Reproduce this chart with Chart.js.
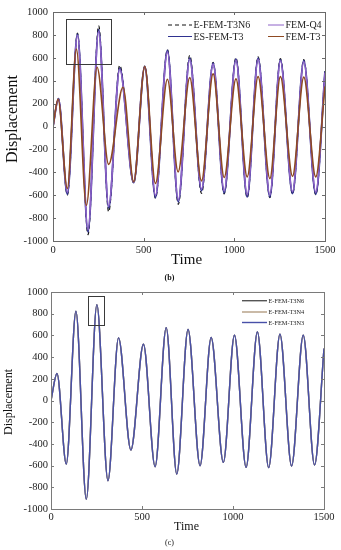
<!DOCTYPE html>
<html><head><meta charset="utf-8">
<script src="https://cdn.jsdelivr.net/npm/chart.js@4.4.1/dist/chart.umd.min.js"></script>
<style>
html,body{margin:0;padding:0;background:#fff;width:341px;height:550px;overflow:hidden}
#c1{position:absolute;left:0;top:0}
#c2{position:absolute;left:0;top:282px}
</style></head><body>
<canvas id="c1" width="341" height="282"></canvas>
<canvas id="c2" width="341" height="268"></canvas>
<script>
// ---------- DATA ----------
const xTicks = [0, 500, 1000, 1500];
const yTicks = [-1000, -800, -600, -400, -200, 0, 200, 400, 600, 800, 1000];

// Panel (b)
const topEFEMT3N6Time  = [0, 30, 79, 135, 193, 252, 307, 368, 445, 506, 565, 631, 691, 754, 819, 883, 944, 1009, 1071, 1131, 1196, 1254, 1321, 1383, 1449, 1500];
const topEFEMT3N6Disp  = [0, 245, -600, 815, -945, 880, -745, 535, -495, 528, -628, 672, -680, 622, -585, 560, -588, 600, -622, 608, -622, 592, -592, 585, -598, 485];
const topESFEMT3Time   = [0, 30, 79, 135, 193, 252, 307, 368, 445, 506, 565, 631, 691, 754, 819, 883, 944, 1009, 1071, 1131, 1196, 1254, 1321, 1383, 1449, 1500];
const topESFEMT3Disp   = [0, 242, -591, 807, -921, 845, -711, 510, -490, 524, -620, 664, -658, 597, -560, 553, -580, 588, -615, 597, -615, 582, -585, 576, -590, 480];
const topFEMQ4Time     = [0, 30, 79, 135, 193, 252, 307, 368, 445, 506, 565, 631, 691, 754, 819, 883, 944, 1009, 1071, 1131, 1196, 1254, 1321, 1383, 1449, 1500];
const topFEMQ4Disp     = [0, 240, -575, 795, -900, 830, -695, 500, -485, 522, -600, 650, -640, 585, -545, 545, -560, 578, -595, 585, -597, 572, -568, 566, -572, 470];
const topFEMT3Time     = [0, 28, 79, 129, 184, 243, 307, 386, 445, 506, 565, 631, 690, 754, 819, 883, 944, 1009, 1071, 1131, 1196, 1254, 1321, 1383, 1449, 1500];
const topFEMT3Disp     = [0, 238, -541, 676, -688, 518, -331, 343, -483, 524, -497, 413, -396, 427, -475, 460, -445, 416, -440, 436, -454, 436, -434, 431, -440, 350];
const topZoomBox = [74, 322, 540, 935];   // time from, time to, disp from, disp to

// Panel (c)
const botT3N6Time = [0, 33, 84, 137, 194, 252, 313, 371, 439, 508, 572, 633, 691, 753, 819, 880, 947, 1008, 1072, 1134, 1196, 1258, 1322, 1386, 1448, 1500];
const botT3N6Disp = [0, 249, -585, 822, -910, 884, -739, 577, -456, 519, -610, 672, -677, 654, -601, 580, -570, 602, -616, 632, -619, 611, -603, 602, -594, 479];
const botT3N4Time = [0, 33, 84, 137, 194, 252, 313, 371, 439, 508, 572, 633, 691, 753, 819, 880, 947, 1008, 1072, 1134, 1196, 1258, 1322, 1386, 1448, 1500];
const botT3N4Disp = [0, 249, -585, 822, -910, 884, -739, 577, -456, 519, -610, 672, -677, 654, -601, 580, -570, 602, -616, 632, -619, 611, -603, 602, -594, 479];
const botT3N3Time = [0, 33, 84, 137, 194, 252, 313, 371, 439, 508, 572, 633, 691, 753, 819, 880, 947, 1008, 1072, 1134, 1196, 1258, 1322, 1386, 1448, 1500];
const botT3N3Disp = [0, 249, -585, 822, -910, 884, -739, 577, -456, 519, -610, 672, -677, 654, -601, 580, -570, 602, -616, 632, -619, 611, -603, 602, -594, 479];
const botZoomBox = [206, 292, 700, 963];

// ---------- helpers ----------
const SERIF = '"Liberation Serif", "Times New Roman", serif';
const pts = (t, d) => t.map((v, i) => ({x: v, y: d[i]}));

function decor(cfg) {
  return {
    id: 'decor',
    afterDraw(chart) {
      const {ctx, chartArea: a, scales: {x, y}} = chart;
      ctx.save();
      // zoom box
      ctx.strokeStyle = '#3a3a3a'; ctx.lineWidth = 1;
      const bx1 = x.getPixelForValue(cfg.box[0]), bx2 = x.getPixelForValue(cfg.box[1]);
      const by1 = y.getPixelForValue(cfg.box[3]), by2 = y.getPixelForValue(cfg.box[2]);
      ctx.strokeRect(Math.round(bx1) + 0.5, Math.round(by1) + 0.5, Math.round(bx2 - bx1), Math.round(by2 - by1));
      // frame
      ctx.strokeStyle = cfg.frame; ctx.lineWidth = 1;
      ctx.strokeRect(Math.round(a.left) + 0.5, Math.round(a.top) + 0.5, Math.round(a.right - a.left), Math.round(a.bottom - a.top));
      // inward ticks
      ctx.beginPath();
      xTicks.forEach(v => {
        const px = Math.round(x.getPixelForValue(v)) + 0.5;
        ctx.moveTo(px, a.bottom); ctx.lineTo(px, a.bottom - 3);
        ctx.moveTo(px, a.top); ctx.lineTo(px, a.top + 3);
      });
      yTicks.forEach(v => {
        const py = Math.round(y.getPixelForValue(v)) + 0.5;
        ctx.moveTo(a.left, py); ctx.lineTo(a.left + 3, py);
        ctx.moveTo(a.right, py); ctx.lineTo(a.right - 3, py);
      });
      ctx.stroke();
      // legend
      ctx.textAlign = 'left'; ctx.textBaseline = 'middle';
      ctx.font = cfg.legendFont;
      cfg.legend.forEach(it => {
        const ds = chart.data.datasets[it.i];
        ctx.strokeStyle = ds.borderColor; ctx.lineWidth = cfg.legendLW;
        ctx.setLineDash(ds.borderDash || []);
        ctx.beginPath(); ctx.moveTo(it.x1, it.y); ctx.lineTo(it.x2, it.y); ctx.stroke();
        ctx.setLineDash([]);
        ctx.fillStyle = '#222';
        ctx.fillText(ds.label, it.x2 + 1.5, it.y + 0.5);
      });
      // axis titles + caption
      ctx.fillStyle = '#111'; ctx.textAlign = 'center'; ctx.textBaseline = 'middle';
      ctx.font = cfg.titleFontX;
      ctx.fillText('Time', cfg.xTitle[0], cfg.xTitle[1]);
      ctx.save();
      ctx.translate(cfg.yTitle[0], cfg.yTitle[1]); ctx.rotate(-Math.PI / 2);
      ctx.font = cfg.titleFontY;
      ctx.fillText('Displacement', 0, 0);
      ctx.restore();
      ctx.font = cfg.capFont;
      ctx.fillText(cfg.caption, cfg.capPos[0], cfg.capPos[1]);
      ctx.restore();
    }
  };
}

function scales(cfg) {
  return {
    x: {
      type: 'linear', min: 0, max: 1500,
      afterBuildTicks: s => { s.ticks = xTicks.map(v => ({value: v})); },
      ticks: {font: {family: SERIF, size: 10.5}, color: '#222', padding: cfg.xPad, maxRotation: 0, callback: v => String(v)},
      grid: {display: false, drawTicks: false}, border: {display: false},
      afterFit: s => { s.height = cfg.xH; }
    },
    y: {
      min: -1000, max: 1000,
      afterBuildTicks: s => { s.ticks = yTicks.map(v => ({value: v})); },
      ticks: {font: {family: SERIF, size: 10.5}, color: '#222', padding: cfg.yPad, callback: v => String(v)},
      grid: {display: false, drawTicks: false}, border: {display: false},
      afterFit: s => { s.width = cfg.yW; }
    }
  };
}

const lineBase = {fill: false, pointRadius: 0, cubicInterpolationMode: 'monotone'};

// ---------- Panel (b) ----------
new Chart(document.getElementById('c1'), {
  type: 'line',
  data: {datasets: [
    {...lineBase, label: 'E-FEM-T3N6', data: pts(topEFEMT3N6Time, topEFEMT3N6Disp), borderColor: '#111', borderWidth: 1.2, borderDash: [4, 3], order: 3},
    {...lineBase, label: 'FEM-Q4', data: pts(topFEMQ4Time, topFEMQ4Disp), borderColor: '#8e62c8', borderWidth: 1.6, order: 1},
    {...lineBase, label: 'ES-FEM-T3', data: pts(topESFEMT3Time, topESFEMT3Disp), borderColor: '#2f3290', borderWidth: 1.8, order: 2},
    {...lineBase, label: 'FEM-T3', data: pts(topFEMT3Time, topFEMT3Disp), borderColor: '#8f4a22', borderWidth: 1.6, order: 0}
  ]},
  options: {
    responsive: false, animation: false, devicePixelRatio: 1,
    layout: {padding: {top: 12, right: 16, left: 0, bottom: 0}},
    plugins: {legend: {display: false}, tooltip: {enabled: false}},
    scales: scales({xPad: 3, yPad: 5, xH: 41, yW: 53})
  },
  plugins: [decor({
    box: topZoomBox, frame: '#6a6a6a',
    legendFont: '10px ' + SERIF, legendLW: 1,
    legend: [
      {i: 0, x1: 168, x2: 192, y: 25},
      {i: 1, x1: 268, x2: 284, y: 25},
      {i: 2, x1: 168, x2: 192, y: 36.5},
      {i: 3, x1: 268, x2: 284, y: 36.5}
    ],
    titleFontX: '15px ' + SERIF, xTitle: [186.5, 260],
    titleFontY: '16px ' + SERIF, yTitle: [12.5, 119],
    capFont: 'bold 8px ' + SERIF, caption: '(b)', capPos: [169.5, 278]
  })]
});

// ---------- Panel (c) ----------
new Chart(document.getElementById('c2'), {
  type: 'line',
  data: {datasets: [
    {...lineBase, label: 'E-FEM-T3N6', data: pts(botT3N6Time, botT3N6Disp), borderColor: '#555555', borderWidth: 1.4, order: 2},
    {...lineBase, label: 'E-FEM-T3N4', data: pts(botT3N4Time, botT3N4Disp), borderColor: '#b39c82', borderWidth: 1.4, order: 1},
    {...lineBase, label: 'E-FEM-T3N3', data: pts(botT3N3Time, botT3N3Disp), borderColor: '#4850a8', borderWidth: 1.4, order: 0}
  ]},
  options: {
    responsive: false, animation: false, devicePixelRatio: 1,
    layout: {padding: {top: 10, right: 17, left: 0, bottom: 0}},
    plugins: {legend: {display: false}, tooltip: {enabled: false}},
    scales: scales({xPad: 2, yPad: 3, xH: 41, yW: 51})
  },
  plugins: [decor({
    box: botZoomBox, frame: '#7a7a7a',
    legendFont: '6.3px ' + SERIF, legendLW: 1.4,
    legend: [
      {i: 0, x1: 242, x2: 267, y: 18.7},
      {i: 1, x1: 242, x2: 267, y: 30},
      {i: 2, x1: 242, x2: 267, y: 40.5}
    ],
    titleFontX: '12px ' + SERIF, xTitle: [186.5, 245],
    titleFontY: '12px ' + SERIF, yTitle: [9, 120],
    capFont: '8px ' + SERIF, caption: '(c)', capPos: [169.5, 261]
  })]
});
</script>
</body></html>
